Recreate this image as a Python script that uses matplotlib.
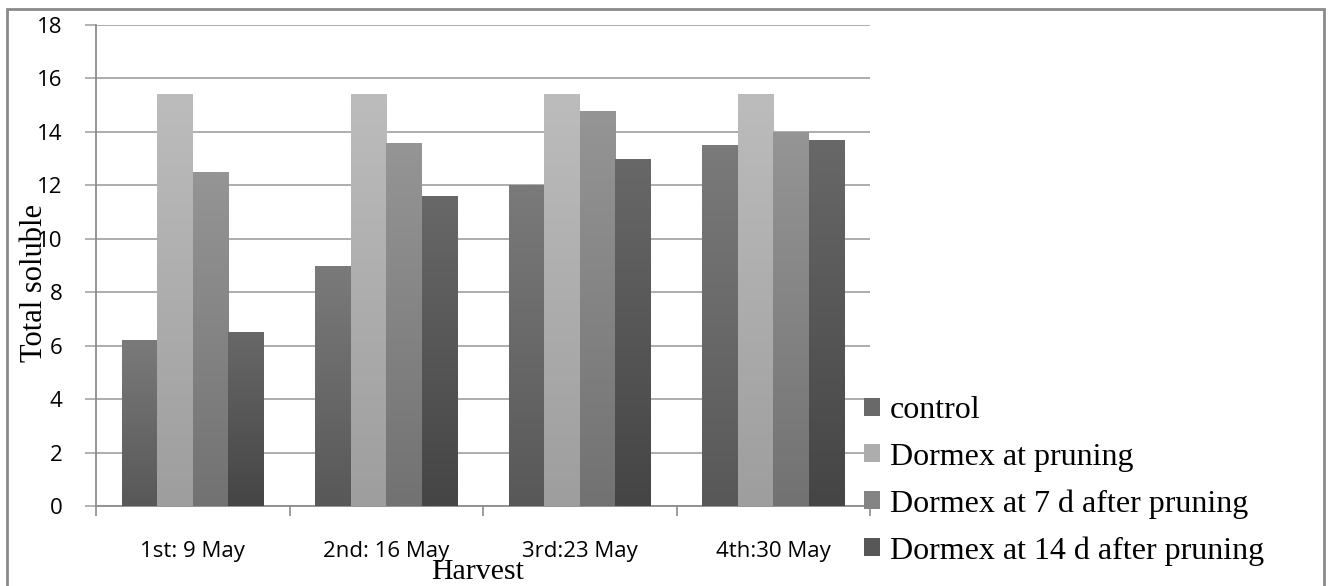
import matplotlib
matplotlib.use("Agg")
import matplotlib.pyplot as plt
import numpy as np
from matplotlib.colors import to_rgb
from matplotlib.patches import Rectangle, Patch

harvests = ["1st: 9 May", "2nd: 16 May", "3rd:23 May", "4th:30 May"]
series_names = ["control", "Dormex at pruning", "Dormex at 7 d after pruning",
                "Dormex at 14 d after pruning"]
control = [6.2, 9.0, 12.0, 13.5]
dormex_pruning = [15.4, 15.4, 15.4, 15.4]
dormex_7d = [12.5, 13.6, 14.8, 14.0]
dormex_14d = [6.5, 11.6, 13.0, 13.7]
yticks = [0, 2, 4, 6, 8, 10, 12, 14, 16, 18]

# (top colour, bottom colour) of each bar's gradient
grads = [("#7a7a7a", "#585858"), ("#bcbcbc", "#9e9e9e"),
         ("#959595", "#727272"), ("#686868", "#454545")]

W, H = 1331, 586
fig = plt.figure(figsize=(W / 100, H / 100), dpi=100)
ax = fig.add_axes([96 / W, (H - 506) / H, (870 - 96) / W, (506 - 25) / H])

values = [control, dormex_pruning, dormex_7d, dormex_14d]
x = np.arange(len(harvests))
bw = 0.1835
for i, vals in enumerate(values):
    pos = x + (i - 1.5) * bw
    bars = ax.bar(pos, vals, width=bw, color=grads[i][1], zorder=2)
    top = np.array(to_rgb(grads[i][0]))
    bot = np.array(to_rgb(grads[i][1]))
    for b in bars:
        x0, h = b.get_x(), b.get_height()
        t = np.linspace(0, 1, 64)[:, None]
        img = (top * (1 - t) + bot * t)[:, None, :]
        im = ax.imshow(img, extent=[x0, x0 + b.get_width(), 0, h],
                       aspect="auto", zorder=3, interpolation="bilinear")
        im.set_clip_path(b)

ax.set_xlim(-0.5, len(harvests) - 0.5)
ax.set_ylim(0, 18)
ax.set_yticks(yticks)
ax.yaxis.grid(True, color="#a6a6a6", linewidth=1.3, zorder=0)
ax.set_axisbelow(True)
ax.set_xticks(x)
ax.set_xticklabels(harvests)
ax.set_xticks(np.arange(len(harvests) + 1) - 0.5, minor=True)
ax.tick_params(axis="x", which="major", length=0, pad=25)
ax.tick_params(axis="x", which="minor", length=7, color="#8c8c8c", width=1.2)
ax.tick_params(axis="y", length=8, color="#a6a6a6", width=1.2, pad=16)
for lab in ax.get_xticklabels() + ax.get_yticklabels():
    lab.set_fontfamily("Open Sans")
    lab.set_fontsize(16)
for s in ["top", "right"]:
    ax.spines[s].set_visible(False)
for s in ["left", "bottom"]:
    ax.spines[s].set_color("#8c8c8c")
    ax.spines[s].set_linewidth(1.3)

fig.text(35 / W, 1 - 283 / H, "Total soluble", rotation=90, ha="center",
         va="center", family="Liberation Serif", fontsize=22)
fig.text(478 / W, 1 - 572 / H, "Harvest", ha="center", va="center",
         family="Liberation Serif", fontsize=21.5)

handles = [Patch(facecolor=(np.array(to_rgb(g[0])) + np.array(to_rgb(g[1]))) / 2)
           for g in grads]
leg = fig.legend(handles, series_names, loc="upper left",
                 bbox_to_anchor=(864 / W, 1 - 396 / H), frameon=False,
                 prop={"family": "Liberation Serif", "size": 23},
                 handlelength=0.5, handleheight=0.5, handletextpad=0.3,
                 labelspacing=0.55, borderaxespad=0, borderpad=0)

fig.add_artist(Rectangle((7 / W, -0.02), (1324 - 7) / W, (H - 9) / H + 0.02,
                         transform=fig.transFigure, fill=False,
                         edgecolor="#8a8a8a", linewidth=2))

fig.savefig("out.png", dpi=100)
